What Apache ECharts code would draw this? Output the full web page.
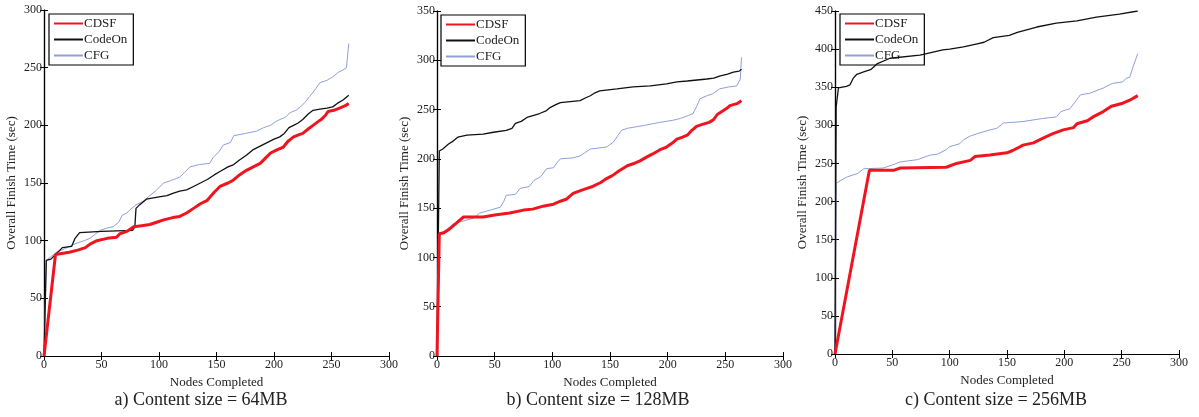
<!DOCTYPE html>
<html>
<head>
<meta charset="utf-8">
<script src="https://cdn.jsdelivr.net/npm/echarts@6/dist/echarts.min.js"></script>
<style>
  html, body { margin: 0; padding: 0; background: #fff; }
  #chart { width: 1199px; height: 417px; }
</style>
</head>
<body>
<div id="chart"></div>
<script>
// [nodes completed, finish time (sec)]
const aCdsf = [[0,0],[10,88],[22,90],[30,92],[36,94],[40,97],[46,100],[55,102],[63,103],[66,106],[72,108],[78,112],[85,113],[92,114],[98,116],[104,118],[112,120],[118,121],[124,124],[130,128],[136,132],[142,135],[148,142],[153,147],[160,150],[164,152],[170,157],[176,161],[182,164],[188,167],[193,172],[197,176],[203,179],[208,181],[212,186],[217,190],[222,192],[225,193],[230,197],[234,200],[238,203],[241,205],[245,209],[247,212],[252,213],[257,215],[262,217],[265,219]];
const aCodeOn = [[0,0],[2,83],[6,84],[10,88],[16,94],[24,95],[27,102],[31,107],[50,108],[77,109],[79,112],[80,128],[83,131],[89,136],[100,138],[107,139],[112,141],[118,143],[124,144],[130,147],[136,150],[142,153],[148,157],[153,160],[160,164],[165,166],[170,170],[176,174],[182,179],[188,182],[194,185],[200,188],[205,190],[209,193],[213,198],[217,200],[221,202],[225,205],[230,210],[234,213],[240,214],[246,215],[251,216],[255,219],[260,222],[265,226]];
const aCfg = [[0,0],[2,83],[11,90],[18,93],[24,96],[29,98],[35,100],[40,102],[45,106],[49,109],[55,111],[60,112],[65,116],[68,122],[72,124],[75,127],[80,131],[86,134],[92,139],[98,144],[104,150],[110,152],[118,155],[122,159],[127,164],[135,166],[144,167],[147,172],[152,177],[156,183],[162,185],[165,191],[175,193],[185,195],[191,198],[197,200],[201,203],[205,205],[210,207],[214,211],[219,213],[223,216],[227,220],[231,225],[235,230],[240,237],[246,239],[251,242],[256,246],[260,248],[263,250],[265,271]];

const bCdsf = [[0,0],[2,124],[6,125],[10,128],[13,131],[17,135],[23,141],[40,141],[50,143],[63,145],[75,148],[83,149],[92,152],[101,154],[107,157],[112,159],[118,165],[125,168],[130,170],[135,172],[142,176],[147,180],[152,183],[158,188],[165,193],[170,195],[176,198],[182,202],[187,205],[193,209],[199,212],[204,216],[208,220],[213,222],[217,224],[221,229],[225,233],[230,235],[236,237],[240,240],[243,245],[247,248],[251,251],[254,254],[260,256],[264,259]];
const bCodeOn = [[0,0],[2,208],[5,210],[10,215],[14,218],[18,222],[26,224],[40,225],[49,227],[60,229],[65,231],[68,236],[73,238],[78,242],[89,246],[95,249],[98,252],[103,255],[107,257],[124,259],[129,262],[133,264],[137,267],[141,269],[156,271],[170,273],[185,274],[199,276],[208,278],[217,279],[234,281],[240,282],[245,284],[252,286],[257,288],[262,289],[264,291]];
const bCfg = [[0,0],[2,124],[8,128],[14,134],[20,136],[26,138],[32,140],[37,145],[46,148],[55,151],[58,157],[60,163],[68,164],[72,170],[80,172],[84,178],[90,182],[95,190],[101,191],[104,196],[107,200],[118,201],[124,203],[128,206],[133,210],[147,212],[153,217],[157,224],[160,229],[165,231],[180,234],[193,237],[204,239],[211,241],[218,244],[222,246],[225,253],[228,261],[234,264],[239,266],[245,271],[253,273],[260,274],[263,281],[264,303]];

const cCdsf = [[0,0],[30,241],[51,241],[57,244],[97,245],[106,250],[115,253],[118,254],[122,259],[135,261],[150,264],[155,267],[159,270],[164,274],[173,277],[181,283],[190,289],[199,294],[208,297],[211,302],[220,306],[225,311],[234,318],[241,325],[251,329],[257,333],[264,339]];
const cCodeOn = [[0,0],[1,324],[3,349],[10,351],[13,353],[16,362],[19,367],[25,370],[31,373],[34,377],[37,381],[48,388],[74,392],[77,393],[94,399],[100,400],[112,403],[124,407],[130,409],[138,415],[152,418],[159,422],[176,429],[193,434],[211,437],[228,442],[248,446],[264,450]];
const cCfg = [[0,0],[1,224],[10,232],[20,237],[25,243],[42,244],[50,248],[57,252],[72,255],[83,261],[89,262],[97,268],[100,272],[109,276],[112,281],[118,286],[124,289],[135,294],[141,296],[147,303],[164,305],[181,309],[193,311],[197,318],[201,320],[205,322],[210,332],[214,340],[222,342],[234,349],[242,355],[251,357],[254,362],[257,363],[260,377],[264,394]];

const seriesNames = ['CDSF', 'CodeOn', 'CFG'];
const yMaxes = [300, 350, 450];
const captions = ['a) Content size = 64MB', 'b) Content size = 128MB', 'c) Content size = 256MB'];
const panelData = [[aCdsf, aCodeOn, aCfg], [bCdsf, bCodeOn, bCfg], [cCdsf, cCodeOn, cCfg]];

const FONT = 'Liberation Serif, Times New Roman, serif';
const INK = '#222';
const panels = [
  { left: 44, top: 10, width: 345, height: 346, legend: [49, 14], cap: 201 },
  { left: 437, top: 11, width: 346, height: 345, legend: [441, 15], cap: 598 },
  { left: 835, top: 11, width: 344, height: 343, legend: [840, 14], cap: 996 }
];
const lineStyles = [
  { color: '#f0141e', width: 3 },
  { color: '#111', width: 1.3 },
  { color: '#8f9fd8', width: 1 }
];

const grid = [], xAxis = [], yAxis = [], series = [], legend = [], title = [];

panels.forEach((p, k) => {
  grid.push({ left: p.left, top: p.top, width: p.width, height: p.height, show: false });

  const line = { show: true, lineStyle: { color: '#000', width: 1.2 } };
  const tick = { show: true, inside: true, length: 4, lineStyle: { color: '#000' } };
  const label = { color: INK, fontFamily: FONT, fontSize: 12 };

  xAxis.push({
    type: 'value', gridIndex: k, min: 0, max: 300, interval: 50,
    axisLine: line, axisTick: tick, splitLine: { show: false },
    axisLabel: Object.assign({ margin: 3 }, label),
    name: 'Nodes Completed', nameLocation: 'middle', nameGap: 18,
    nameTextStyle: { color: INK, fontFamily: FONT, fontSize: 13 }
  });
  xAxis.push({
    type: 'value', gridIndex: k, position: 'top', min: 0, max: 300, interval: 50,
    axisLine: line, axisTick: tick, axisLabel: { show: false }, splitLine: { show: false }
  });
  yAxis.push({
    type: 'value', gridIndex: k, min: 0, max: yMaxes[k], interval: 50,
    axisLine: line, axisTick: tick, splitLine: { show: false },
    axisLabel: Object.assign({ margin: 2 }, label),
    name: 'Overall Finish Time (sec)', nameLocation: 'middle', nameGap: 26,
    nameTextStyle: { color: INK, fontFamily: FONT, fontSize: 13 }
  });
  yAxis.push({
    type: 'value', gridIndex: k, position: 'right', min: 0, max: yMaxes[k], interval: 50,
    axisLine: line, axisTick: tick, axisLabel: { show: false }, splitLine: { show: false }
  });

  seriesNames.forEach((name, i) => {
    series.push({
      name, type: 'line', xAxisIndex: 2 * k, yAxisIndex: 2 * k,
      data: panelData[k][i], symbol: 'none', animation: false,
      lineStyle: lineStyles[i], itemStyle: { color: lineStyles[i].color },
      z: 5 - i
    });
  });

  legend.push({
    data: seriesNames, orient: 'vertical', left: p.legend[0], top: p.legend[1],
    backgroundColor: '#fff', borderColor: '#000', borderWidth: 1.2, borderRadius: 0,
    padding: [3, 6, 3, 4], itemGap: 3, itemWidth: 29, itemHeight: 10,
    selectedMode: false, itemStyle: { opacity: 0 },
    textStyle: { color: INK, fontFamily: FONT, fontSize: 13, padding: [0, 0, 0, -4] }
  });

  title.push({
    text: captions[k], left: p.cap, top: 391, textAlign: 'center', padding: 0,
    textStyle: { color: INK, fontFamily: FONT, fontSize: 18, fontWeight: 'normal' }
  });
});

const chart = echarts.init(document.getElementById('chart'));
chart.setOption({ animation: false, title, grid, xAxis, yAxis, series, legend });
</script>
</body>
</html>
